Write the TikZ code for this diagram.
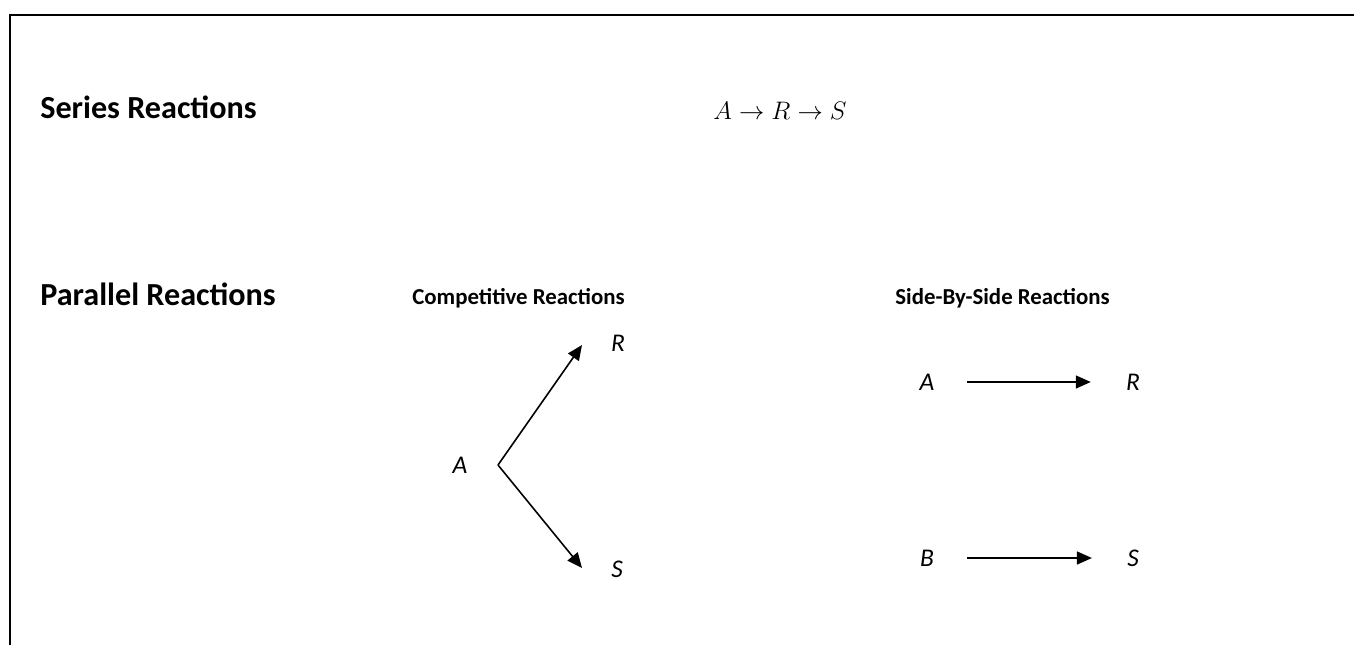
\documentclass[tikz,border=0pt]{standalone}
\usepackage{fontspec}
\setmainfont{Carlito}
\usepackage{tikz}
\usetikzlibrary{arrows.meta,positioning}

\begin{document}
\begin{tikzpicture}[
        x=0.02cm, y=-0.02cm,
        heading/.style={
            font=\fontsize{18.3}{22}\selectfont\bfseries, inner sep=0pt, anchor=base west
        },
        subheading/.style={
            font=\fontsize{13}{16}\selectfont\bfseries, inner sep=0pt, anchor=base west
        },
        species/.style={
            font=\fontsize{14.5}{17}\selectfont\itshape, inner sep=0pt
        },
        rxn/.style={
            -{Triangle[length=3mm,width=2.6mm]}, line width=0.9pt
        }
    ]
    \useasboundingbox (0,0) rectangle (1354,645);

    % Frame
    \draw[line width=1.2pt] (10,645) -- (10,15) -- (1354,15);

    % Series
    \node[heading] (series) at (40,119) {Series Reactions};
    \node[inner sep=0pt, font=\fontsize{15}{18}\selectfont] (chain) at (780,111) {$A \rightarrow R \rightarrow S$};

    % Parallel
    \node[heading] (parallel) at (40,305) {Parallel Reactions};
    \node[subheading] (compet) at (412,304) {Competitive Reactions};
    \node[subheading] (side) at (895,304) {Side-By-Side Reactions};

    % Competitive A -> R, A -> S
    \node[species] (compA) at (460,465) {A};
    \node[species] (compR) at (618,343) {R};
    \node[species] (compS) at (617,569) {S};
    \coordinate (fork) at (498,465);
    \coordinate (tipR) at (582,345);
    \coordinate (tipS) at (582,568);
    \draw[rxn] (fork) -- (tipR);
    \draw[rxn] (fork) -- (tipS);

    % Side-by-side A -> R, B -> S
    \node[species] (sideA) at (927,382) {A};
    \node[species] (sideR) at (1133,382) {R};
    \node[species] (sideB) at (927,558) {B};
    \node[species] (sideS) at (1133,558) {S};
    \draw[rxn, shorten <=0.65cm, shorten >=0.7cm] (sideA.east) -- (sideR.west);
    \draw[rxn, shorten <=0.65cm, shorten >=0.7cm] (sideB.east) -- (sideS.west);

\end{tikzpicture}
\end{document}
